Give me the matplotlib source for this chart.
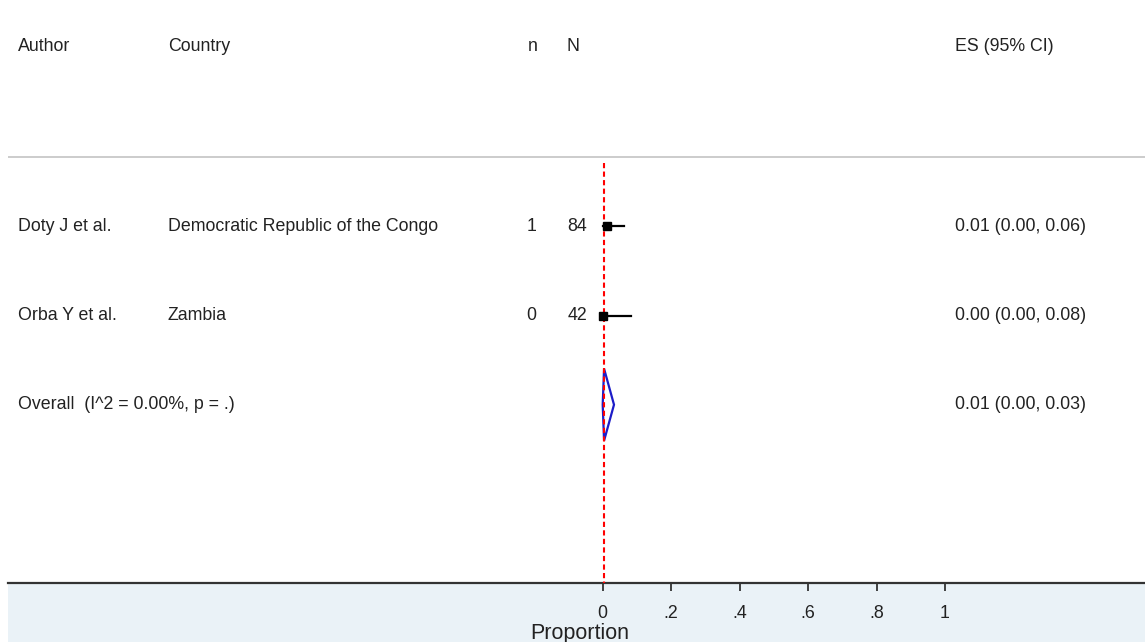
import numpy as np
import matplotlib
matplotlib.use("Agg")
import matplotlib.pyplot as plt
import matplotlib.transforms as mtransforms
from matplotlib.patches import Rectangle, Polygon

plt.rcParams['font.family'] = ['Liberation Sans', 'DejaVu Sans']

# study data
authors = ["Doty J et al.", "Orba Y et al."]
countries = ["Democratic Republic of the Congo", "Zambia"]
n_events = [1, 0]
n_total = [84, 42]
es = [0.012, 0.0]
ci_low = [0.0, 0.0]
ci_high = [0.062, 0.084]
es_labels = ["0.01 (0.00, 0.06)", "0.00 (0.00, 0.08)"]

overall_label = "Overall  (I^2 = 0.00%, p = .)"
overall_es = 0.004
overall_low = 0.0
overall_high = 0.033
overall_text = "0.01 (0.00, 0.03)"

xticks = [0, 0.2, 0.4, 0.6, 0.8, 1]
xtick_labels = ["0", ".2", ".4", ".6", ".8", "1"]

W, H = 1145, 642
fig = plt.figure(figsize=(W / 100, H / 100), dpi=100)
fig.patch.set_facecolor("white")

# light blue band under the axis
band = Rectangle((8 / W, 0), 1 - 8 / W, 59 / H, transform=fig.transFigure,
                 facecolor="#eaf2f7", edgecolor="none", zorder=-5)
fig.patches.append(band)

ax = fig.add_axes([8 / W, 59 / H, 1 - 8 / W, 1 - 59 / H])
ax.set_zorder(2)
ax.patch.set_alpha(0)
ax.set_xlim((8 - 602.7) / 342.3, (1145 - 602.7) / 342.3)
ax.set_ylim(4, -2.539)
for s in ["top", "left", "right"]:
    ax.spines[s].set_visible(False)
ax.spines["bottom"].set_linewidth(1.6)
ax.spines["bottom"].set_color("#333333")
ax.set_yticks([])
ax.set_xticks(xticks)
ax.set_xticklabels(xtick_labels)
ax.tick_params(axis="x", length=5.5, width=1.3, color="#333333", labelsize=12.8, pad=10,
               labelcolor="#222222")
ax.set_xlabel("Proportion", fontsize=15.5, color="#222222")
ax.xaxis.set_label_coords(0.503, -0.068)

# separator under the header
ax.axhline(-0.775, color="#c8c8c8", lw=1.3)

# reference line at the pooled estimate
ax.plot([overall_es, overall_es], [-0.71, 4], color="red", lw=1.5,
        linestyle=(0, (2.5, 1.6)), zorder=3)

rows = np.arange(len(authors))
for i in rows:
    ax.plot([ci_low[i], ci_high[i]], [i, i], color="black", lw=1.6, zorder=4)
    ax.plot(es[i], i, marker="s", color="black", markersize=5.5, zorder=5)

ov_row = len(authors)
diamond = Polygon([[overall_low, ov_row], [overall_es, ov_row - 0.404],
                   [overall_high, ov_row], [overall_es, ov_row + 0.404]],
                  closed=True, fill=False, edgecolor="#1c1cc8", lw=1.6, zorder=2)
ax.add_patch(diamond)

# text columns (x in figure pixels, y in rows)
tr = mtransforms.blended_transform_factory(fig.transFigure, ax.transData)
fs = 12.8
tc = "#222222"
hdr = -2.02


def px(x):
    return x / W


ax.text(px(18), hdr, "Author", transform=tr, fontsize=fs, color=tc, va="center")
ax.text(px(168), hdr, "Country", transform=tr, fontsize=fs, color=tc, va="center")
ax.text(px(528), hdr, "n", transform=tr, fontsize=fs, color=tc, va="center")
ax.text(px(567), hdr, "N", transform=tr, fontsize=fs, color=tc, va="center")
ax.text(px(955), hdr, "ES (95% CI)", transform=tr, fontsize=fs, color=tc, va="center")

for i in rows:
    ax.text(px(18), i, authors[i], transform=tr, fontsize=fs, color=tc, va="center")
    ax.text(px(168), i, countries[i], transform=tr, fontsize=fs, color=tc, va="center")
    ax.text(px(536), i, str(n_events[i]), transform=tr, fontsize=fs, color=tc,
            va="center", ha="right")
    ax.text(px(587), i, str(n_total[i]), transform=tr, fontsize=fs, color=tc,
            va="center", ha="right")
    ax.text(px(955), i, es_labels[i], transform=tr, fontsize=fs, color=tc, va="center")

ax.text(px(18), ov_row, overall_label, transform=tr, fontsize=fs, color=tc, va="center")
ax.text(px(955), ov_row, overall_text, transform=tr, fontsize=fs, color=tc, va="center")

fig.savefig("out.png", dpi=100)
